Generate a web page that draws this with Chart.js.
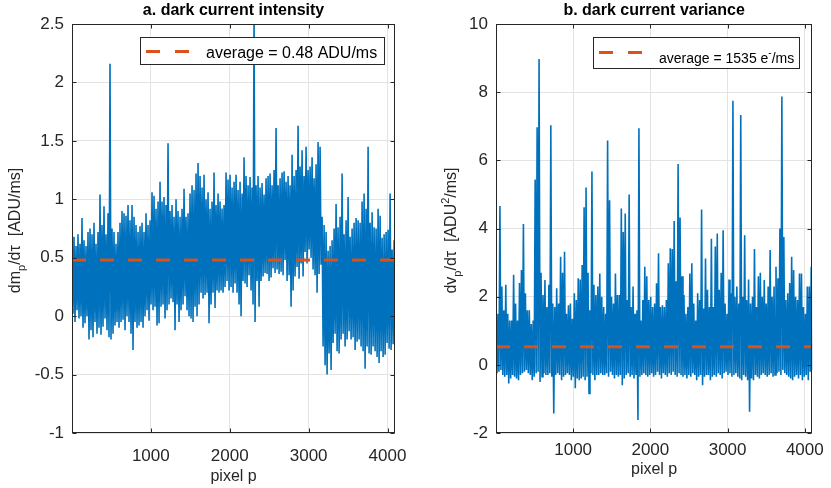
<!DOCTYPE html>
<html>
<head>
<meta charset="utf-8">
<script src="https://cdn.jsdelivr.net/npm/chart.js@4.4.1/dist/chart.umd.min.js"></script>
<style>
  body { margin: 0; background: #fff; }
  #wrap { position: relative; width: 831px; height: 488px; }
  canvas { position: absolute; top: 0; }
</style>
</head>
<body>
<div id="wrap">
  <canvas id="chartA" width="420" height="488" style="left:0"></canvas>
  <canvas id="chartB" width="411" height="488" style="left:420px"></canvas>
</div>
<script>
// pixel axis shared by both panels
const pixelRange = [1, 4096];
const pixelTicks = [1000, 2000, 3000, 4000];

// a. dark current intensity: per-column max / min of the trace
const intensityRange = [-1, 2.5];
const intensityStep = 0.5;
const intensityAverage = 0.48;
const intensityHigh = [
  0.62,0.68,0.6,0.7,0.62,0.84,0.65,0.6,0.72,0.75,
  0.7,0.8,0.62,0.72,1.04,0.78,0.94,0.7,0.88,2.16,
  0.75,0.72,0.62,0.72,0.8,0.9,0.88,0.86,0.95,0.82,
  0.95,0.85,0.78,0.72,0.77,0.8,0.72,0.88,0.78,0.82,
  1.06,1.03,0.92,0.98,1.15,0.98,1.02,0.95,1.48,0.9,
  0.95,0.85,1.0,0.9,0.85,0.92,1.09,0.85,0.88,1.05,
  1.12,1.08,1.22,1.31,1.2,1.1,1.21,1.0,1.06,0.92,
  0.98,1.23,0.95,1.05,0.98,0.92,0.95,1.23,1.17,1.21,
  1.1,1.15,1.21,1.08,1.15,1.05,1.36,1.2,1.12,1.19,
  1.1,2.6,1.12,1.2,1.1,1.14,1.04,1.18,1.2,1.22,
  1.12,1.25,1.61,1.12,1.18,1.23,1.24,1.15,1.2,1.12,
  1.38,1.2,1.25,1.63,1.28,1.42,1.2,1.45,1.25,1.28,
  1.36,1.18,1.3,1.49,1.45,0.85,0.78,0.72,0.56,0.6,
  0.65,0.75,0.96,0.76,0.85,1.22,0.7,0.82,1.02,0.68,
  0.75,0.8,0.84,0.82,0.8,0.98,1.05,0.92,1.45,0.8,
  0.89,0.76,0.75,0.92,0.86,0.67,0.7,0.72,0.74,1.05,
  0.57,0.65
];
const intensityLow = [
  0.02,-0.05,0.05,-0.02,0.0,-0.1,-0.06,0.0,-0.2,-0.12,
  -0.18,-0.05,-0.15,-0.1,-0.16,-0.09,-0.02,-0.12,-0.18,-0.2,
  -0.15,-0.08,-0.05,-0.1,-0.05,-0.03,-0.12,0.0,-0.05,-0.15,
  -0.29,-0.05,-0.1,-0.08,-0.05,-0.1,0.0,0.05,-0.04,0.1,
  0.05,0.08,-0.08,-0.06,0.08,0.1,-0.02,0.05,0.1,0.15,
  0.12,-0.12,0.1,-0.05,0.05,0.1,0.17,0.05,0.0,-0.02,
  -0.05,0.08,0.0,0.1,0.2,0.15,0.18,0.2,-0.06,0.1,
  0.2,0.07,0.22,0.2,0.22,0.2,0.25,0.3,0.22,0.25,
  0.2,0.28,0.2,0.1,0.0,0.3,0.28,0.25,0.35,0.22,
  0.1,-0.05,0.3,0.08,0.3,0.34,0.37,0.36,0.3,0.33,
  0.41,0.37,0.4,0.36,0.38,0.35,0.48,0.3,0.35,0.08,
  0.22,0.34,0.42,0.32,0.45,0.34,0.55,0.45,0.57,0.5,
  0.4,0.35,0.2,0.36,0.44,-0.26,-0.42,-0.5,-0.32,-0.46,
  -0.23,-0.15,-0.3,-0.32,-0.2,-0.15,-0.26,-0.2,-0.13,-0.2,
  -0.18,-0.29,-0.22,-0.2,-0.26,-0.3,-0.45,-0.26,-0.32,-0.33,
  -0.26,-0.3,-0.35,-0.4,-0.3,-0.35,-0.33,-0.23,-0.28,-0.29,
  -0.24,-0.2
];

// b. dark current variance
const varianceRange = [-2, 10];
const varianceStep = 2;
const varianceAverage = 0.53;
const varianceHigh = [
  1.2,1.5,4.66,2.3,1.6,2.35,1.5,1.3,1.3,2.64,
  1.8,1.3,2.4,2.78,4.13,2.1,1.6,1.6,1.2,1.3,
  5.44,6.97,8.97,2.7,2.05,2.49,1.7,2.35,7.03,1.8,
  1.7,2.25,1.8,3.17,2.7,3.32,1.5,1.75,1.8,1.35,
  2.1,1.9,2.54,2.5,2.93,4.62,5.2,2.7,1.6,5.67,
  2.35,2.05,2.3,2.68,2.0,1.7,1.5,6.58,4.83,2.0,
  1.8,2.68,2.05,2.05,4.59,3.9,4.44,1.9,5.0,1.7,
  2.3,1.5,1.6,6.94,1.3,1.9,2.88,2.6,1.9,2.0,
  1.7,1.8,2.39,3.27,1.7,1.75,1.7,1.9,2.98,3.42,
  3.4,4.22,2.45,5.89,4.32,2.6,2.05,1.5,1.7,2.68,
  2.98,1.8,1.3,2.1,1.9,4.56,1.65,3.12,2.2,1.7,
  3.7,1.7,3.47,3.85,2.2,2.7,3.95,1.8,1.5,2.5,
  2.1,7.75,2.0,2.3,1.8,7.33,2.0,3.8,1.9,2.5,
  1.8,2.0,3.4,1.7,2.6,2.7,2.0,2.49,1.8,2.3,
  3.37,2.0,2.3,2.88,2.54,4.0,7.87,3.75,1.9,2.1,
  2.4,3.17,2.78,2.0,1.9,2.68,2.68,1.7,1.5,2.3,
  2.3,2.88
];
const varianceLow = [
  -0.25,-0.2,-0.15,-0.3,-0.35,-0.3,-0.55,-0.4,-0.3,-0.35,
  -0.4,-0.45,-0.3,-0.25,-0.2,-0.15,-0.25,-0.3,-0.45,-0.35,
  -0.25,-0.2,-0.5,-0.35,-0.25,-0.3,-0.3,-0.25,-0.35,-1.43,
  -0.3,-0.25,-0.3,-0.45,-0.35,-0.3,-0.25,-0.3,-0.45,-0.35,
  -0.69,-0.4,-0.45,-0.4,-0.35,-0.45,-0.35,-0.84,-0.25,-0.3,
  -0.45,-0.3,-0.3,-0.25,-0.3,-0.3,-0.25,-0.35,-0.2,-0.3,
  -0.4,-0.3,-0.35,-0.3,-0.6,-0.4,-0.3,-0.25,-0.35,-0.3,
  -0.4,-0.3,-1.62,-0.35,-0.3,-0.25,-0.3,-0.35,-0.3,-0.25,
  -0.35,-0.3,-0.2,-0.3,-0.4,-0.25,-0.3,-0.35,-0.25,-0.3,
  -0.2,-0.3,-0.35,-0.25,-0.3,-0.35,-0.3,-0.4,-0.3,-0.35,
  -0.25,-0.3,-0.45,-0.35,-0.3,-0.6,-0.35,-0.3,-0.3,-0.45,
  -0.35,-0.3,-0.35,-0.25,-0.3,-0.4,-0.25,-0.2,-0.3,-0.25,
  -0.35,-0.3,-0.25,-0.35,-0.4,-0.45,-0.3,-0.35,-0.45,-1.38,
  -0.4,-0.45,-0.3,-0.35,-0.4,-0.3,-0.25,-0.3,-0.35,-0.3,
  -0.25,-0.35,-0.3,-0.25,-0.2,-0.3,-0.15,-0.25,-0.3,-0.35,
  -0.4,-0.45,-0.35,-0.3,-0.4,-0.3,-0.45,-0.35,-0.3,-0.45,
  -0.2,-0.15
];

const FONT = '"Liberation Sans", Arial, Helvetica, sans-serif';
const INK = '#262626';
Chart.defaults.font.family = FONT;

// max / min pairs laid out along the pixel axis, one column after the other
function zigzag(high, low) {
  const step = (pixelRange[1] - pixelRange[0]) / (high.length - 0.5);
  const pts = [];
  high.forEach((h, i) => {
    pts.push({ x: pixelRange[0] + i * step, y: h });
    pts.push({ x: pixelRange[0] + (i + 0.5) * step, y: low[i] });
  });
  return pts;
}

// text made of runs (for sub/superscripts)
function drawRuns(ctx, runs, x, y) {
  let total = 0;
  runs.forEach(r => { ctx.font = r.size + 'px ' + FONT; total += ctx.measureText(r.t).width; });
  let cx = x - total / 2;
  runs.forEach(r => {
    ctx.font = r.size + 'px ' + FONT;
    ctx.fillText(r.t, cx, y + (r.dy || 0));
    cx += ctx.measureText(r.t).width;
  });
}

const decor = {
  id: 'decor',
  afterDraw(chart, args, opts) {
    const ctx = chart.ctx;
    const a = chart.chartArea;
    const L = Math.round(a.left) + 0.5, R = Math.round(a.right) - 0.5;
    const T = Math.round(a.top) + 0.5, B = Math.round(a.bottom) - 0.5;
    ctx.save();
    // box + inward ticks
    ctx.strokeStyle = INK;
    ctx.lineWidth = 1;
    ctx.strokeRect(L, T, R - L, B - T);
    ctx.beginPath();
    chart.scales.x.ticks.forEach(t => {
      const px = Math.round(chart.scales.x.getPixelForValue(t.value)) + 0.5;
      ctx.moveTo(px, B); ctx.lineTo(px, B - 4);
      ctx.moveTo(px, T); ctx.lineTo(px, T + 4);
    });
    chart.scales.y.ticks.forEach(t => {
      const py = Math.round(chart.scales.y.getPixelForValue(t.value)) + 0.5;
      ctx.moveTo(L, py); ctx.lineTo(L + 4, py);
      ctx.moveTo(R, py); ctx.lineTo(R - 4, py);
    });
    ctx.stroke();

    // title
    ctx.fillStyle = '#000';
    ctx.textAlign = 'center';
    ctx.textBaseline = 'middle';
    ctx.font = 'bold 16px ' + FONT;
    ctx.fillText(opts.title, (a.left + a.right) / 2, 11);

    // y label, rotated
    ctx.textAlign = 'left';
    ctx.textBaseline = 'alphabetic';
    ctx.fillStyle = INK;
    ctx.save();
    ctx.translate(opts.yLabelX, (a.top + a.bottom) / 2 + 2);
    ctx.rotate(-Math.PI / 2);
    drawRuns(ctx, opts.yLabel, 0, 0);
    ctx.restore();

    // legend
    const lg = opts.legend;
    ctx.fillStyle = '#fff';
    ctx.fillRect(lg.x, lg.y, lg.w, lg.h);
    ctx.strokeStyle = INK;
    ctx.strokeRect(lg.x + 0.5, lg.y + 0.5, lg.w, lg.h);
    ctx.strokeStyle = '#D95319';
    ctx.lineWidth = 3;
    ctx.beginPath();
    ctx.moveTo(lg.x + 6, lg.lineY); ctx.lineTo(lg.x + 20, lg.lineY);
    ctx.moveTo(lg.x + 35, lg.lineY); ctx.lineTo(lg.x + 49, lg.lineY);
    ctx.stroke();
    ctx.fillStyle = '#000';
    let tx = lg.textX;
    lg.text.forEach(r => {
      ctx.font = r.size + 'px ' + FONT;
      ctx.fillText(r.t, tx, lg.textY + (r.dy || 0));
      tx += ctx.measureText(r.t).width;
    });
    ctx.restore();
  }
};

function panel(id, cfg) {
  return new Chart(document.getElementById(id), {
    type: 'line',
    data: {
      datasets: [
        { data: zigzag(cfg.high, cfg.low), borderColor: '#0072BD', borderWidth: 1.6,
          pointRadius: 0, tension: 0, order: 2 },
        { data: [{ x: pixelRange[0], y: cfg.average }, { x: pixelRange[1], y: cfg.average }],
          borderColor: '#D95319', borderWidth: 3, borderDash: [14, 14], pointRadius: 0,
          order: 1 }
      ]
    },
    options: {
      responsive: false,
      animation: false,
      events: [],
      devicePixelRatio: 1,
      layout: { padding: { left: 0, right: cfg.padRight, top: 24, bottom: 0 } },
      plugins: {
        legend: { display: false },
        tooltip: { enabled: false },
        decor: cfg.decor
      },
      scales: {
        x: {
          type: 'linear',
          min: pixelRange[0], max: pixelRange[1],
          afterBuildTicks: s => { s.ticks = pixelTicks.map(v => ({ value: v })); },
          afterFit: s => { s.height = 55; },
          ticks: { font: { size: 17 }, color: INK, padding: cfg.xTickPad, maxRotation: 0,
                   autoSkip: false, callback: v => String(v) },
          grid: { color: '#e3e3e3', drawTicks: false },
          border: { display: false },
          title: { display: true, text: 'pixel p', color: INK, font: { size: 16 },
                   padding: { top: 0, bottom: cfg.xTitlePad } }
        },
        y: {
          min: cfg.range[0], max: cfg.range[1],
          afterFit: s => { s.width = cfg.yWidth; },
          ticks: { stepSize: cfg.step, font: { size: 17 }, color: INK, padding: 8,
                   callback: v => String(Math.round(v * 100) / 100) },
          grid: { color: '#e3e3e3', drawTicks: false },
          border: { display: false }
        }
      }
    },
    plugins: [decor]
  });
}

panel('chartA', {
  high: intensityHigh, low: intensityLow, average: intensityAverage,
  range: intensityRange, step: intensityStep,
  yWidth: 72, padRight: 24, xTickPad: 13, xTitlePad: 1.5,
  decor: {
    title: 'a. dark current intensity',
    yLabelX: 20,
    yLabel: [{ t: 'dm', size: 16 }, { t: 'p', size: 11, dy: 5 },
             { t: '/d\u03c4  [ADU/ms]', size: 16 }],
    legend: { x: 140, y: 37, w: 244, h: 27, lineY: 51.5, textX: 206, textY: 57.5,
              text: [{ t: 'average = 0.48 ADU/ms', size: 16 }] }
  }
});

panel('chartB', {
  high: varianceHigh, low: varianceLow, average: varianceAverage,
  range: varianceRange, step: varianceStep,
  yWidth: 76, padRight: 12, xTickPad: 7, xTitlePad: 8.5,
  decor: {
    title: 'b. dark current variance',
    yLabelX: 36,
    yLabel: [{ t: 'dv', size: 16 }, { t: 'p', size: 11, dy: 5 },
             { t: '/d\u03c4  [ADU', size: 16 }, { t: '2', size: 11, dy: -7 },
             { t: '/ms]', size: 16 }],
    legend: { x: 173, y: 37, w: 206, h: 31, lineY: 52.5, textX: 239, textY: 63,
              text: [{ t: 'average = 1535 e', size: 14 }, { t: '-', size: 10, dy: -7 },
                     { t: '/ms', size: 14 }] }
  }
});
</script>
</body>
</html>
